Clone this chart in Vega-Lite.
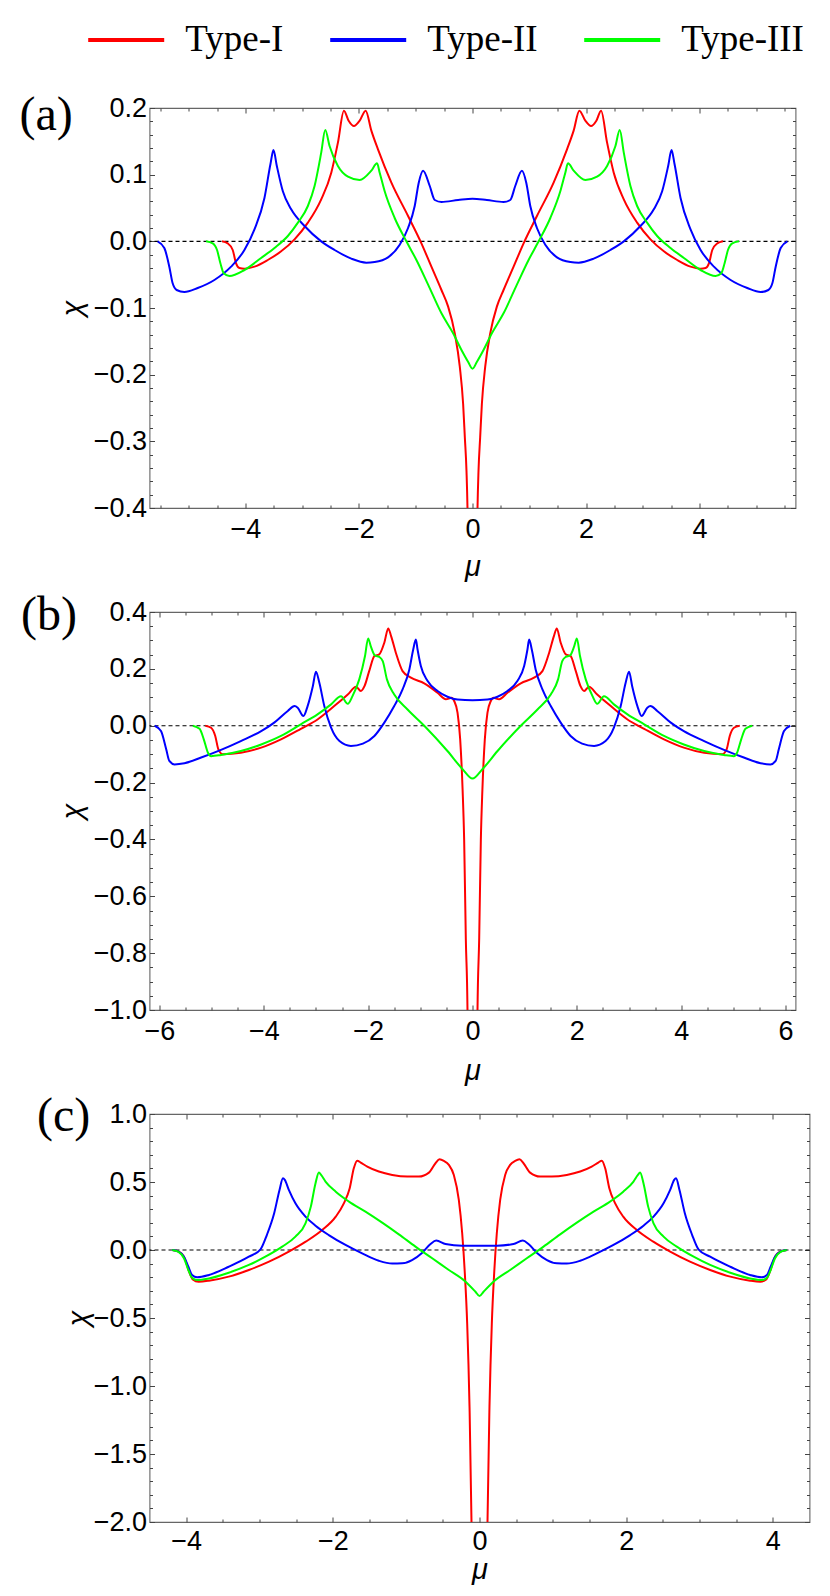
{
  "$schema": "https://vega.github.io/schema/vega-lite/v6.json",
  "background": "white",
  "padding": {"left": 18.5, "top": 0, "right": 10, "bottom": 0},
  "bounds": "flush",
  "spacing": 104,
  "config": {
    "view": {"stroke": "#666666", "strokeWidth": 1.1},
    "axis": {
      "grid": false,
      "domain": false,
      "labelFont": "Liberation Sans",
      "labelFontSize": 27,
      "labelColor": "black",
      "titleFont": "Liberation Sans",
      "titleFontSize": 29,
      "titleFontWeight": "normal",
      "titleFontStyle": "italic",
      "titleColor": "black",
      "tickColor": "#444444",
      "tickWidth": 1
    }
  },
  "datasets": {
    "a": [
      {"t":"Type-I","mu":-4.412,"chi":0},{"t":"Type-I","mu":-4.312,"chi":-0.003},{"t":"Type-I","mu":-4.224,"chi":-0.013},{"t":"Type-I","mu":-4.165,"chi":-0.033},{"t":"Type-I","mu":-4.106,"chi":-0.04},{"t":"Type-I","mu":-4.018,"chi":-0.041},{"t":"Type-I","mu":-3.841,"chi":-0.038},{"t":"Type-I","mu":-3.606,"chi":-0.028},{"t":"Type-I","mu":-3.371,"chi":-0.015},{"t":"Type-I","mu":-3.135,"chi":0.003},{"t":"Type-I","mu":-2.9,"chi":0.028},{"t":"Type-I","mu":-2.665,"chi":0.063},{"t":"Type-I","mu":-2.488,"chi":0.103},{"t":"Type-I","mu":-2.371,"chi":0.148},{"t":"Type-I","mu":-2.265,"chi":0.196},{"t":"Type-I","mu":-2.182,"chi":0.181},{"t":"Type-I","mu":-2.088,"chi":0.173},{"t":"Type-I","mu":-1.988,"chi":0.181},{"t":"Type-I","mu":-1.882,"chi":0.196},{"t":"Type-I","mu":-1.782,"chi":0.166},{"t":"Type-I","mu":-1.665,"chi":0.138},{"t":"Type-I","mu":-1.429,"chi":0.088},{"t":"Type-I","mu":-1.135,"chi":0.038},{"t":"Type-I","mu":-0.9,"chi":-0.003},{"t":"Type-I","mu":-0.724,"chi":-0.038},{"t":"Type-I","mu":-0.547,"chi":-0.073},{"t":"Type-I","mu":-0.429,"chi":-0.098},{"t":"Type-I","mu":-0.312,"chi":-0.138},{"t":"Type-I","mu":-0.224,"chi":-0.188},{"t":"Type-I","mu":-0.165,"chi":-0.244},{"t":"Type-I","mu":-0.135,"chi":-0.294},{"t":"Type-I","mu":-0.106,"chi":-0.344},{"t":"Type-I","mu":-0.088,"chi":-0.401},{"t":"Type-I","mu":-0.06,"chi":-0.6},
      {"t":"Type-I","mu":0.06,"chi":-0.6},{"t":"Type-I","mu":0.088,"chi":-0.401},{"t":"Type-I","mu":0.106,"chi":-0.344},{"t":"Type-I","mu":0.135,"chi":-0.294},{"t":"Type-I","mu":0.165,"chi":-0.244},{"t":"Type-I","mu":0.224,"chi":-0.188},{"t":"Type-I","mu":0.312,"chi":-0.138},{"t":"Type-I","mu":0.429,"chi":-0.098},{"t":"Type-I","mu":0.547,"chi":-0.073},{"t":"Type-I","mu":0.724,"chi":-0.038},{"t":"Type-I","mu":0.9,"chi":-0.003},{"t":"Type-I","mu":1.135,"chi":0.038},{"t":"Type-I","mu":1.429,"chi":0.088},{"t":"Type-I","mu":1.665,"chi":0.138},{"t":"Type-I","mu":1.782,"chi":0.166},{"t":"Type-I","mu":1.882,"chi":0.196},{"t":"Type-I","mu":1.988,"chi":0.181},{"t":"Type-I","mu":2.088,"chi":0.173},{"t":"Type-I","mu":2.182,"chi":0.181},{"t":"Type-I","mu":2.265,"chi":0.196},{"t":"Type-I","mu":2.371,"chi":0.148},{"t":"Type-I","mu":2.488,"chi":0.103},{"t":"Type-I","mu":2.665,"chi":0.063},{"t":"Type-I","mu":2.9,"chi":0.028},{"t":"Type-I","mu":3.135,"chi":0.003},{"t":"Type-I","mu":3.371,"chi":-0.015},{"t":"Type-I","mu":3.606,"chi":-0.028},{"t":"Type-I","mu":3.841,"chi":-0.038},{"t":"Type-I","mu":4.018,"chi":-0.041},{"t":"Type-I","mu":4.106,"chi":-0.04},{"t":"Type-I","mu":4.165,"chi":-0.033},{"t":"Type-I","mu":4.224,"chi":-0.013},{"t":"Type-I","mu":4.312,"chi":-0.003},{"t":"Type-I","mu":4.412,"chi":0},
      {"t":"Type-II","mu":-5.547,"chi":0},{"t":"Type-II","mu":-5.429,"chi":-0.01},{"t":"Type-II","mu":-5.341,"chi":-0.038},{"t":"Type-II","mu":-5.282,"chi":-0.063},{"t":"Type-II","mu":-5.212,"chi":-0.073},{"t":"Type-II","mu":-5.076,"chi":-0.076},{"t":"Type-II","mu":-4.841,"chi":-0.07},{"t":"Type-II","mu":-4.547,"chi":-0.058},{"t":"Type-II","mu":-4.253,"chi":-0.038},{"t":"Type-II","mu":-4.018,"chi":-0.013},{"t":"Type-II","mu":-3.841,"chi":0.018},{"t":"Type-II","mu":-3.665,"chi":0.065},{"t":"Type-II","mu":-3.559,"chi":0.116},{"t":"Type-II","mu":-3.506,"chi":0.137},{"t":"Type-II","mu":-3.447,"chi":0.113},{"t":"Type-II","mu":-3.341,"chi":0.075},{"t":"Type-II","mu":-3.194,"chi":0.048},{"t":"Type-II","mu":-2.959,"chi":0.023},{"t":"Type-II","mu":-2.665,"chi":0},{"t":"Type-II","mu":-2.429,"chi":-0.013},{"t":"Type-II","mu":-2.135,"chi":-0.026},{"t":"Type-II","mu":-1.871,"chi":-0.032},{"t":"Type-II","mu":-1.724,"chi":-0.031},{"t":"Type-II","mu":-1.488,"chi":-0.024},{"t":"Type-II","mu":-1.282,"chi":-0.005},{"t":"Type-II","mu":-1.135,"chi":0.02},{"t":"Type-II","mu":-1.018,"chi":0.053},{"t":"Type-II","mu":-0.947,"chi":0.088},{"t":"Type-II","mu":-0.871,"chi":0.106},{"t":"Type-II","mu":-0.753,"chi":0.083},{"t":"Type-II","mu":-0.665,"chi":0.062},{"t":"Type-II","mu":-0.547,"chi":0.059},{"t":"Type-II","mu":-0.253,"chi":0.062},{"t":"Type-II","mu":0,"chi":0.064},
      {"t":"Type-II","mu":0.253,"chi":0.062},{"t":"Type-II","mu":0.547,"chi":0.059},{"t":"Type-II","mu":0.665,"chi":0.062},{"t":"Type-II","mu":0.753,"chi":0.083},{"t":"Type-II","mu":0.871,"chi":0.106},{"t":"Type-II","mu":0.947,"chi":0.088},{"t":"Type-II","mu":1.018,"chi":0.053},{"t":"Type-II","mu":1.135,"chi":0.02},{"t":"Type-II","mu":1.282,"chi":-0.005},{"t":"Type-II","mu":1.488,"chi":-0.024},{"t":"Type-II","mu":1.724,"chi":-0.031},{"t":"Type-II","mu":1.871,"chi":-0.032},{"t":"Type-II","mu":2.135,"chi":-0.026},{"t":"Type-II","mu":2.429,"chi":-0.013},{"t":"Type-II","mu":2.665,"chi":0},{"t":"Type-II","mu":2.959,"chi":0.023},{"t":"Type-II","mu":3.194,"chi":0.048},{"t":"Type-II","mu":3.341,"chi":0.075},{"t":"Type-II","mu":3.447,"chi":0.113},{"t":"Type-II","mu":3.506,"chi":0.137},{"t":"Type-II","mu":3.559,"chi":0.116},{"t":"Type-II","mu":3.665,"chi":0.065},{"t":"Type-II","mu":3.841,"chi":0.018},{"t":"Type-II","mu":4.018,"chi":-0.013},{"t":"Type-II","mu":4.253,"chi":-0.038},{"t":"Type-II","mu":4.547,"chi":-0.058},{"t":"Type-II","mu":4.841,"chi":-0.07},{"t":"Type-II","mu":5.076,"chi":-0.076},{"t":"Type-II","mu":5.212,"chi":-0.073},{"t":"Type-II","mu":5.282,"chi":-0.063},{"t":"Type-II","mu":5.341,"chi":-0.038},{"t":"Type-II","mu":5.429,"chi":-0.01},{"t":"Type-II","mu":5.547,"chi":0},
      {"t":"Type-III","mu":-4.694,"chi":0},{"t":"Type-III","mu":-4.576,"chi":-0.003},{"t":"Type-III","mu":-4.5,"chi":-0.013},{"t":"Type-III","mu":-4.441,"chi":-0.033},{"t":"Type-III","mu":-4.382,"chi":-0.048},{"t":"Type-III","mu":-4.282,"chi":-0.052},{"t":"Type-III","mu":-4.018,"chi":-0.043},{"t":"Type-III","mu":-3.724,"chi":-0.025},{"t":"Type-III","mu":-3.488,"chi":-0.01},{"t":"Type-III","mu":-3.253,"chi":0.008},{"t":"Type-III","mu":-3.076,"chi":0.028},{"t":"Type-III","mu":-2.9,"chi":0.053},{"t":"Type-III","mu":-2.782,"chi":0.083},{"t":"Type-III","mu":-2.665,"chi":0.133},{"t":"Type-III","mu":-2.594,"chi":0.167},{"t":"Type-III","mu":-2.518,"chi":0.143},{"t":"Type-III","mu":-2.371,"chi":0.113},{"t":"Type-III","mu":-2.194,"chi":0.097},{"t":"Type-III","mu":-1.988,"chi":0.092},{"t":"Type-III","mu":-1.782,"chi":0.106},{"t":"Type-III","mu":-1.682,"chi":0.117},{"t":"Type-III","mu":-1.635,"chi":0.103},{"t":"Type-III","mu":-1.547,"chi":0.075},{"t":"Type-III","mu":-1.371,"chi":0.035},{"t":"Type-III","mu":-1.165,"chi":0},{"t":"Type-III","mu":-0.988,"chi":-0.028},{"t":"Type-III","mu":-0.782,"chi":-0.065},{"t":"Type-III","mu":-0.547,"chi":-0.108},{"t":"Type-III","mu":-0.341,"chi":-0.138},{"t":"Type-III","mu":-0.194,"chi":-0.163},{"t":"Type-III","mu":-0.076,"chi":-0.181},{"t":"Type-III","mu":0,"chi":-0.191},
      {"t":"Type-III","mu":0.076,"chi":-0.181},{"t":"Type-III","mu":0.194,"chi":-0.163},{"t":"Type-III","mu":0.341,"chi":-0.138},{"t":"Type-III","mu":0.547,"chi":-0.108},{"t":"Type-III","mu":0.782,"chi":-0.065},{"t":"Type-III","mu":0.988,"chi":-0.028},{"t":"Type-III","mu":1.165,"chi":0},{"t":"Type-III","mu":1.371,"chi":0.035},{"t":"Type-III","mu":1.547,"chi":0.075},{"t":"Type-III","mu":1.635,"chi":0.103},{"t":"Type-III","mu":1.682,"chi":0.117},{"t":"Type-III","mu":1.782,"chi":0.106},{"t":"Type-III","mu":1.988,"chi":0.092},{"t":"Type-III","mu":2.194,"chi":0.097},{"t":"Type-III","mu":2.371,"chi":0.113},{"t":"Type-III","mu":2.518,"chi":0.143},{"t":"Type-III","mu":2.594,"chi":0.167},{"t":"Type-III","mu":2.665,"chi":0.133},{"t":"Type-III","mu":2.782,"chi":0.083},{"t":"Type-III","mu":2.9,"chi":0.053},{"t":"Type-III","mu":3.076,"chi":0.028},{"t":"Type-III","mu":3.253,"chi":0.008},{"t":"Type-III","mu":3.488,"chi":-0.01},{"t":"Type-III","mu":3.724,"chi":-0.025},{"t":"Type-III","mu":4.018,"chi":-0.043},{"t":"Type-III","mu":4.282,"chi":-0.052},{"t":"Type-III","mu":4.382,"chi":-0.048},{"t":"Type-III","mu":4.441,"chi":-0.033},{"t":"Type-III","mu":4.5,"chi":-0.013},{"t":"Type-III","mu":4.576,"chi":-0.003},{"t":"Type-III","mu":4.694,"chi":0}
    ],
    "b": [
      {"t":"Type-I","mu":-5.12,"chi":0},{"t":"Type-I","mu":-5.01,"chi":-0.007},{"t":"Type-I","mu":-4.93,"chi":-0.036},{"t":"Type-I","mu":-4.87,"chi":-0.083},{"t":"Type-I","mu":-4.786,"chi":-0.1},{"t":"Type-I","mu":-4.44,"chi":-0.095},{"t":"Type-I","mu":-4.05,"chi":-0.077},{"t":"Type-I","mu":-3.67,"chi":-0.048},{"t":"Type-I","mu":-3.29,"chi":-0.011},{"t":"Type-I","mu":-2.97,"chi":0.022},{"t":"Type-I","mu":-2.65,"chi":0.069},{"t":"Type-I","mu":-2.39,"chi":0.11},{"t":"Type-I","mu":-2.23,"chi":0.137},{"t":"Type-I","mu":-2.14,"chi":0.122},{"t":"Type-I","mu":-2.07,"chi":0.139},{"t":"Type-I","mu":-1.98,"chi":0.192},{"t":"Type-I","mu":-1.88,"chi":0.245},{"t":"Type-I","mu":-1.787,"chi":0.251},{"t":"Type-I","mu":-1.69,"chi":0.292},{"t":"Type-I","mu":-1.615,"chi":0.342},{"t":"Type-I","mu":-1.56,"chi":0.315},{"t":"Type-I","mu":-1.468,"chi":0.256},{"t":"Type-I","mu":-1.34,"chi":0.192},{"t":"Type-I","mu":-1.18,"chi":0.169},{"t":"Type-I","mu":-0.925,"chi":0.149},{"t":"Type-I","mu":-0.67,"chi":0.116},{"t":"Type-I","mu":-0.51,"chi":0.093},{"t":"Type-I","mu":-0.402,"chi":0.098},{"t":"Type-I","mu":-0.351,"chi":0.087},{"t":"Type-I","mu":-0.287,"chi":0.046},{"t":"Type-I","mu":-0.236,"chi":-0.048},{"t":"Type-I","mu":-0.19,"chi":-0.224},{"t":"Type-I","mu":-0.16,"chi":-0.4},{"t":"Type-I","mu":-0.128,"chi":-0.75},{"t":"Type-I","mu":-0.096,"chi":-1.0},{"t":"Type-I","mu":-0.08,"chi":-1.4},
      {"t":"Type-I","mu":0.08,"chi":-1.4},{"t":"Type-I","mu":0.096,"chi":-1.0},{"t":"Type-I","mu":0.128,"chi":-0.75},{"t":"Type-I","mu":0.16,"chi":-0.4},{"t":"Type-I","mu":0.19,"chi":-0.224},{"t":"Type-I","mu":0.236,"chi":-0.048},{"t":"Type-I","mu":0.287,"chi":0.046},{"t":"Type-I","mu":0.351,"chi":0.087},{"t":"Type-I","mu":0.402,"chi":0.098},{"t":"Type-I","mu":0.51,"chi":0.093},{"t":"Type-I","mu":0.67,"chi":0.116},{"t":"Type-I","mu":0.925,"chi":0.149},{"t":"Type-I","mu":1.18,"chi":0.169},{"t":"Type-I","mu":1.34,"chi":0.192},{"t":"Type-I","mu":1.468,"chi":0.256},{"t":"Type-I","mu":1.56,"chi":0.315},{"t":"Type-I","mu":1.615,"chi":0.342},{"t":"Type-I","mu":1.69,"chi":0.292},{"t":"Type-I","mu":1.787,"chi":0.251},{"t":"Type-I","mu":1.88,"chi":0.245},{"t":"Type-I","mu":1.98,"chi":0.192},{"t":"Type-I","mu":2.07,"chi":0.139},{"t":"Type-I","mu":2.14,"chi":0.122},{"t":"Type-I","mu":2.23,"chi":0.137},{"t":"Type-I","mu":2.39,"chi":0.11},{"t":"Type-I","mu":2.65,"chi":0.069},{"t":"Type-I","mu":2.97,"chi":0.022},{"t":"Type-I","mu":3.29,"chi":-0.011},{"t":"Type-I","mu":3.67,"chi":-0.048},{"t":"Type-I","mu":4.05,"chi":-0.077},{"t":"Type-I","mu":4.44,"chi":-0.095},{"t":"Type-I","mu":4.786,"chi":-0.1},{"t":"Type-I","mu":4.87,"chi":-0.083},{"t":"Type-I","mu":4.93,"chi":-0.036},{"t":"Type-I","mu":5.01,"chi":-0.007},{"t":"Type-I","mu":5.12,"chi":0},
      {"t":"Type-II","mu":-6.09,"chi":0},{"t":"Type-II","mu":-5.97,"chi":-0.019},{"t":"Type-II","mu":-5.87,"chi":-0.083},{"t":"Type-II","mu":-5.81,"chi":-0.124},{"t":"Type-II","mu":-5.71,"chi":-0.136},{"t":"Type-II","mu":-5.52,"chi":-0.132},{"t":"Type-II","mu":-5.2,"chi":-0.112},{"t":"Type-II","mu":-4.82,"chi":-0.085},{"t":"Type-II","mu":-4.44,"chi":-0.054},{"t":"Type-II","mu":-4.05,"chi":-0.019},{"t":"Type-II","mu":-3.8,"chi":0.011},{"t":"Type-II","mu":-3.54,"chi":0.052},{"t":"Type-II","mu":-3.41,"chi":0.069},{"t":"Type-II","mu":-3.35,"chi":0.063},{"t":"Type-II","mu":-3.24,"chi":0.034},{"t":"Type-II","mu":-3.16,"chi":0.069},{"t":"Type-II","mu":-3.06,"chi":0.139},{"t":"Type-II","mu":-3.0,"chi":0.19},{"t":"Type-II","mu":-2.935,"chi":0.151},{"t":"Type-II","mu":-2.84,"chi":0.069},{"t":"Type-II","mu":-2.71,"chi":-0.007},{"t":"Type-II","mu":-2.55,"chi":-0.054},{"t":"Type-II","mu":-2.33,"chi":-0.071},{"t":"Type-II","mu":-2.1,"chi":-0.063},{"t":"Type-II","mu":-1.88,"chi":-0.036},{"t":"Type-II","mu":-1.69,"chi":0.011},{"t":"Type-II","mu":-1.5,"chi":0.069},{"t":"Type-II","mu":-1.34,"chi":0.128},{"t":"Type-II","mu":-1.21,"chi":0.198},{"t":"Type-II","mu":-1.136,"chi":0.268},{"t":"Type-II","mu":-1.085,"chi":0.303},{"t":"Type-II","mu":-1.053,"chi":0.268},{"t":"Type-II","mu":-0.99,"chi":0.21},{"t":"Type-II","mu":-0.86,"chi":0.157},{"t":"Type-II","mu":-0.67,"chi":0.122},{"t":"Type-II","mu":-0.479,"chi":0.102},{"t":"Type-II","mu":-0.287,"chi":0.092},{"t":"Type-II","mu":0,"chi":0.09},
      {"t":"Type-II","mu":0.287,"chi":0.092},{"t":"Type-II","mu":0.479,"chi":0.102},{"t":"Type-II","mu":0.67,"chi":0.122},{"t":"Type-II","mu":0.86,"chi":0.157},{"t":"Type-II","mu":0.99,"chi":0.21},{"t":"Type-II","mu":1.053,"chi":0.268},{"t":"Type-II","mu":1.085,"chi":0.303},{"t":"Type-II","mu":1.136,"chi":0.268},{"t":"Type-II","mu":1.21,"chi":0.198},{"t":"Type-II","mu":1.34,"chi":0.128},{"t":"Type-II","mu":1.5,"chi":0.069},{"t":"Type-II","mu":1.69,"chi":0.011},{"t":"Type-II","mu":1.88,"chi":-0.036},{"t":"Type-II","mu":2.1,"chi":-0.063},{"t":"Type-II","mu":2.33,"chi":-0.071},{"t":"Type-II","mu":2.55,"chi":-0.054},{"t":"Type-II","mu":2.71,"chi":-0.007},{"t":"Type-II","mu":2.84,"chi":0.069},{"t":"Type-II","mu":2.935,"chi":0.151},{"t":"Type-II","mu":3.0,"chi":0.19},{"t":"Type-II","mu":3.06,"chi":0.139},{"t":"Type-II","mu":3.16,"chi":0.069},{"t":"Type-II","mu":3.24,"chi":0.034},{"t":"Type-II","mu":3.35,"chi":0.063},{"t":"Type-II","mu":3.41,"chi":0.069},{"t":"Type-II","mu":3.54,"chi":0.052},{"t":"Type-II","mu":3.8,"chi":0.011},{"t":"Type-II","mu":4.05,"chi":-0.019},{"t":"Type-II","mu":4.44,"chi":-0.054},{"t":"Type-II","mu":4.82,"chi":-0.085},{"t":"Type-II","mu":5.2,"chi":-0.112},{"t":"Type-II","mu":5.52,"chi":-0.132},{"t":"Type-II","mu":5.71,"chi":-0.136},{"t":"Type-II","mu":5.81,"chi":-0.124},{"t":"Type-II","mu":5.87,"chi":-0.083},{"t":"Type-II","mu":5.97,"chi":-0.019},{"t":"Type-II","mu":6.09,"chi":0},
      {"t":"Type-III","mu":-5.36,"chi":0},{"t":"Type-III","mu":-5.23,"chi":-0.011},{"t":"Type-III","mu":-5.15,"chi":-0.048},{"t":"Type-III","mu":-5.07,"chi":-0.095},{"t":"Type-III","mu":-5.01,"chi":-0.107},{"t":"Type-III","mu":-4.82,"chi":-0.103},{"t":"Type-III","mu":-4.44,"chi":-0.089},{"t":"Type-III","mu":-4.05,"chi":-0.066},{"t":"Type-III","mu":-3.67,"chi":-0.036},{"t":"Type-III","mu":-3.29,"chi":0.005},{"t":"Type-III","mu":-2.97,"chi":0.04},{"t":"Type-III","mu":-2.71,"chi":0.075},{"t":"Type-III","mu":-2.52,"chi":0.104},{"t":"Type-III","mu":-2.39,"chi":0.077},{"t":"Type-III","mu":-2.3,"chi":0.104},{"t":"Type-III","mu":-2.17,"chi":0.163},{"t":"Type-III","mu":-2.06,"chi":0.245},{"t":"Type-III","mu":-2.0,"chi":0.307},{"t":"Type-III","mu":-1.95,"chi":0.28},{"t":"Type-III","mu":-1.87,"chi":0.247},{"t":"Type-III","mu":-1.787,"chi":0.242},{"t":"Type-III","mu":-1.72,"chi":0.227},{"t":"Type-III","mu":-1.64,"chi":0.163},{"t":"Type-III","mu":-1.5,"chi":0.11},{"t":"Type-III","mu":-1.245,"chi":0.057},{"t":"Type-III","mu":-0.925,"chi":0},{"t":"Type-III","mu":-0.48,"chi":-0.089},{"t":"Type-III","mu":-0.19,"chi":-0.153},{"t":"Type-III","mu":0,"chi":-0.186},
      {"t":"Type-III","mu":0.19,"chi":-0.153},{"t":"Type-III","mu":0.48,"chi":-0.089},{"t":"Type-III","mu":0.925,"chi":0},{"t":"Type-III","mu":1.245,"chi":0.057},{"t":"Type-III","mu":1.5,"chi":0.11},{"t":"Type-III","mu":1.64,"chi":0.163},{"t":"Type-III","mu":1.72,"chi":0.227},{"t":"Type-III","mu":1.787,"chi":0.242},{"t":"Type-III","mu":1.87,"chi":0.247},{"t":"Type-III","mu":1.95,"chi":0.28},{"t":"Type-III","mu":2.0,"chi":0.307},{"t":"Type-III","mu":2.06,"chi":0.245},{"t":"Type-III","mu":2.17,"chi":0.163},{"t":"Type-III","mu":2.3,"chi":0.104},{"t":"Type-III","mu":2.39,"chi":0.077},{"t":"Type-III","mu":2.52,"chi":0.104},{"t":"Type-III","mu":2.71,"chi":0.075},{"t":"Type-III","mu":2.97,"chi":0.04},{"t":"Type-III","mu":3.29,"chi":0.005},{"t":"Type-III","mu":3.67,"chi":-0.036},{"t":"Type-III","mu":4.05,"chi":-0.066},{"t":"Type-III","mu":4.44,"chi":-0.089},{"t":"Type-III","mu":4.82,"chi":-0.103},{"t":"Type-III","mu":5.01,"chi":-0.107},{"t":"Type-III","mu":5.07,"chi":-0.095},{"t":"Type-III","mu":5.15,"chi":-0.048},{"t":"Type-III","mu":5.23,"chi":-0.011},{"t":"Type-III","mu":5.36,"chi":0}
    ],
    "c": [
      {"t":"Type-I","mu":-4.19,"chi":0},{"t":"Type-I","mu":-4.1,"chi":-0.012},{"t":"Type-I","mu":-4.02,"chi":-0.061},{"t":"Type-I","mu":-3.96,"chi":-0.159},{"t":"Type-I","mu":-3.91,"chi":-0.216},{"t":"Type-I","mu":-3.83,"chi":-0.233},{"t":"Type-I","mu":-3.69,"chi":-0.226},{"t":"Type-I","mu":-3.42,"chi":-0.196},{"t":"Type-I","mu":-3.145,"chi":-0.147},{"t":"Type-I","mu":-2.87,"chi":-0.086},{"t":"Type-I","mu":-2.6,"chi":-0.012},{"t":"Type-I","mu":-2.37,"chi":0.061},{"t":"Type-I","mu":-2.145,"chi":0.147},{"t":"Type-I","mu":-1.96,"chi":0.245},{"t":"Type-I","mu":-1.85,"chi":0.343},{"t":"Type-I","mu":-1.77,"chi":0.454},{"t":"Type-I","mu":-1.714,"chi":0.601},{"t":"Type-I","mu":-1.668,"chi":0.657},{"t":"Type-I","mu":-1.62,"chi":0.643},{"t":"Type-I","mu":-1.53,"chi":0.613},{"t":"Type-I","mu":-1.373,"chi":0.577},{"t":"Type-I","mu":-1.19,"chi":0.552},{"t":"Type-I","mu":-0.986,"chi":0.54},{"t":"Type-I","mu":-0.827,"chi":0.54},{"t":"Type-I","mu":-0.69,"chi":0.569},{"t":"Type-I","mu":-0.6,"chi":0.638},{"t":"Type-I","mu":-0.545,"chi":0.667},{"t":"Type-I","mu":-0.486,"chi":0.655},{"t":"Type-I","mu":-0.418,"chi":0.626},{"t":"Type-I","mu":-0.35,"chi":0.552},{"t":"Type-I","mu":-0.282,"chi":0.368},{"t":"Type-I","mu":-0.236,"chi":0.123},{"t":"Type-I","mu":-0.2,"chi":-0.172},{"t":"Type-I","mu":-0.168,"chi":-0.54},{"t":"Type-I","mu":-0.136,"chi":-1.153},{"t":"Type-I","mu":-0.109,"chi":-2.0},{"t":"Type-I","mu":-0.09,"chi":-3.0},
      {"t":"Type-I","mu":0.09,"chi":-3.0},{"t":"Type-I","mu":0.109,"chi":-2.0},{"t":"Type-I","mu":0.136,"chi":-1.153},{"t":"Type-I","mu":0.168,"chi":-0.54},{"t":"Type-I","mu":0.2,"chi":-0.172},{"t":"Type-I","mu":0.236,"chi":0.123},{"t":"Type-I","mu":0.282,"chi":0.368},{"t":"Type-I","mu":0.35,"chi":0.552},{"t":"Type-I","mu":0.418,"chi":0.626},{"t":"Type-I","mu":0.486,"chi":0.655},{"t":"Type-I","mu":0.545,"chi":0.667},{"t":"Type-I","mu":0.6,"chi":0.638},{"t":"Type-I","mu":0.69,"chi":0.569},{"t":"Type-I","mu":0.827,"chi":0.54},{"t":"Type-I","mu":0.986,"chi":0.54},{"t":"Type-I","mu":1.19,"chi":0.552},{"t":"Type-I","mu":1.373,"chi":0.577},{"t":"Type-I","mu":1.53,"chi":0.613},{"t":"Type-I","mu":1.62,"chi":0.643},{"t":"Type-I","mu":1.668,"chi":0.657},{"t":"Type-I","mu":1.714,"chi":0.601},{"t":"Type-I","mu":1.77,"chi":0.454},{"t":"Type-I","mu":1.85,"chi":0.343},{"t":"Type-I","mu":1.96,"chi":0.245},{"t":"Type-I","mu":2.145,"chi":0.147},{"t":"Type-I","mu":2.37,"chi":0.061},{"t":"Type-I","mu":2.6,"chi":-0.012},{"t":"Type-I","mu":2.87,"chi":-0.086},{"t":"Type-I","mu":3.145,"chi":-0.147},{"t":"Type-I","mu":3.42,"chi":-0.196},{"t":"Type-I","mu":3.69,"chi":-0.226},{"t":"Type-I","mu":3.83,"chi":-0.233},{"t":"Type-I","mu":3.91,"chi":-0.216},{"t":"Type-I","mu":3.96,"chi":-0.159},{"t":"Type-I","mu":4.02,"chi":-0.061},{"t":"Type-I","mu":4.1,"chi":-0.012},{"t":"Type-I","mu":4.19,"chi":0},
      {"t":"Type-II","mu":-4.19,"chi":0},{"t":"Type-II","mu":-4.11,"chi":-0.01},{"t":"Type-II","mu":-4.03,"chi":-0.049},{"t":"Type-II","mu":-3.97,"chi":-0.123},{"t":"Type-II","mu":-3.92,"chi":-0.184},{"t":"Type-II","mu":-3.85,"chi":-0.201},{"t":"Type-II","mu":-3.69,"chi":-0.184},{"t":"Type-II","mu":-3.42,"chi":-0.123},{"t":"Type-II","mu":-3.145,"chi":-0.049},{"t":"Type-II","mu":-2.986,"chi":0.005},{"t":"Type-II","mu":-2.9,"chi":0.11},{"t":"Type-II","mu":-2.8,"chi":0.27},{"t":"Type-II","mu":-2.727,"chi":0.442},{"t":"Type-II","mu":-2.68,"chi":0.527},{"t":"Type-II","mu":-2.655,"chi":0.515},{"t":"Type-II","mu":-2.6,"chi":0.442},{"t":"Type-II","mu":-2.51,"chi":0.343},{"t":"Type-II","mu":-2.373,"chi":0.245},{"t":"Type-II","mu":-2.236,"chi":0.179},{"t":"Type-II","mu":-2.055,"chi":0.11},{"t":"Type-II","mu":-1.827,"chi":0.037},{"t":"Type-II","mu":-1.6,"chi":-0.025},{"t":"Type-II","mu":-1.373,"chi":-0.079},{"t":"Type-II","mu":-1.19,"chi":-0.1},{"t":"Type-II","mu":-1.055,"chi":-0.098},{"t":"Type-II","mu":-0.92,"chi":-0.074},{"t":"Type-II","mu":-0.78,"chi":-0.02},{"t":"Type-II","mu":-0.668,"chi":0.044},{"t":"Type-II","mu":-0.59,"chi":0.069},{"t":"Type-II","mu":-0.464,"chi":0.044},{"t":"Type-II","mu":-0.236,"chi":0.032},{"t":"Type-II","mu":0,"chi":0.032},
      {"t":"Type-II","mu":0.236,"chi":0.032},{"t":"Type-II","mu":0.464,"chi":0.044},{"t":"Type-II","mu":0.59,"chi":0.069},{"t":"Type-II","mu":0.668,"chi":0.044},{"t":"Type-II","mu":0.78,"chi":-0.02},{"t":"Type-II","mu":0.92,"chi":-0.074},{"t":"Type-II","mu":1.055,"chi":-0.098},{"t":"Type-II","mu":1.19,"chi":-0.1},{"t":"Type-II","mu":1.373,"chi":-0.079},{"t":"Type-II","mu":1.6,"chi":-0.025},{"t":"Type-II","mu":1.827,"chi":0.037},{"t":"Type-II","mu":2.055,"chi":0.11},{"t":"Type-II","mu":2.236,"chi":0.179},{"t":"Type-II","mu":2.373,"chi":0.245},{"t":"Type-II","mu":2.51,"chi":0.343},{"t":"Type-II","mu":2.6,"chi":0.442},{"t":"Type-II","mu":2.655,"chi":0.515},{"t":"Type-II","mu":2.68,"chi":0.527},{"t":"Type-II","mu":2.727,"chi":0.442},{"t":"Type-II","mu":2.8,"chi":0.27},{"t":"Type-II","mu":2.9,"chi":0.11},{"t":"Type-II","mu":2.986,"chi":0.005},{"t":"Type-II","mu":3.145,"chi":-0.049},{"t":"Type-II","mu":3.42,"chi":-0.123},{"t":"Type-II","mu":3.69,"chi":-0.184},{"t":"Type-II","mu":3.85,"chi":-0.201},{"t":"Type-II","mu":3.92,"chi":-0.184},{"t":"Type-II","mu":3.97,"chi":-0.123},{"t":"Type-II","mu":4.03,"chi":-0.049},{"t":"Type-II","mu":4.11,"chi":-0.01},{"t":"Type-II","mu":4.19,"chi":0},
      {"t":"Type-III","mu":-4.19,"chi":0},{"t":"Type-III","mu":-4.11,"chi":-0.012},{"t":"Type-III","mu":-4.03,"chi":-0.061},{"t":"Type-III","mu":-3.97,"chi":-0.147},{"t":"Type-III","mu":-3.92,"chi":-0.204},{"t":"Type-III","mu":-3.85,"chi":-0.221},{"t":"Type-III","mu":-3.69,"chi":-0.209},{"t":"Type-III","mu":-3.42,"chi":-0.167},{"t":"Type-III","mu":-3.145,"chi":-0.11},{"t":"Type-III","mu":-2.92,"chi":-0.049},{"t":"Type-III","mu":-2.69,"chi":0.025},{"t":"Type-III","mu":-2.51,"chi":0.098},{"t":"Type-III","mu":-2.373,"chi":0.196},{"t":"Type-III","mu":-2.3,"chi":0.319},{"t":"Type-III","mu":-2.236,"chi":0.491},{"t":"Type-III","mu":-2.19,"chi":0.569},{"t":"Type-III","mu":-2.16,"chi":0.552},{"t":"Type-III","mu":-2.1,"chi":0.503},{"t":"Type-III","mu":-1.96,"chi":0.429},{"t":"Type-III","mu":-1.78,"chi":0.356},{"t":"Type-III","mu":-1.555,"chi":0.282},{"t":"Type-III","mu":-1.327,"chi":0.201},{"t":"Type-III","mu":-1.1,"chi":0.115},{"t":"Type-III","mu":-0.873,"chi":0.025},{"t":"Type-III","mu":-0.645,"chi":-0.061},{"t":"Type-III","mu":-0.418,"chi":-0.147},{"t":"Type-III","mu":-0.19,"chi":-0.233},{"t":"Type-III","mu":-0.055,"chi":-0.307},{"t":"Type-III","mu":0,"chi":-0.339},
      {"t":"Type-III","mu":0.055,"chi":-0.307},{"t":"Type-III","mu":0.19,"chi":-0.233},{"t":"Type-III","mu":0.418,"chi":-0.147},{"t":"Type-III","mu":0.645,"chi":-0.061},{"t":"Type-III","mu":0.873,"chi":0.025},{"t":"Type-III","mu":1.1,"chi":0.115},{"t":"Type-III","mu":1.327,"chi":0.201},{"t":"Type-III","mu":1.555,"chi":0.282},{"t":"Type-III","mu":1.78,"chi":0.356},{"t":"Type-III","mu":1.96,"chi":0.429},{"t":"Type-III","mu":2.1,"chi":0.503},{"t":"Type-III","mu":2.16,"chi":0.552},{"t":"Type-III","mu":2.19,"chi":0.569},{"t":"Type-III","mu":2.236,"chi":0.491},{"t":"Type-III","mu":2.3,"chi":0.319},{"t":"Type-III","mu":2.373,"chi":0.196},{"t":"Type-III","mu":2.51,"chi":0.098},{"t":"Type-III","mu":2.69,"chi":0.025},{"t":"Type-III","mu":2.92,"chi":-0.049},{"t":"Type-III","mu":3.145,"chi":-0.11},{"t":"Type-III","mu":3.42,"chi":-0.167},{"t":"Type-III","mu":3.69,"chi":-0.209},{"t":"Type-III","mu":3.85,"chi":-0.221},{"t":"Type-III","mu":3.92,"chi":-0.204},{"t":"Type-III","mu":3.97,"chi":-0.147},{"t":"Type-III","mu":4.03,"chi":-0.061},{"t":"Type-III","mu":4.11,"chi":-0.012},{"t":"Type-III","mu":4.19,"chi":0}
    ]
  },
  "vconcat": [
    {
      "width": 646,
      "height": 400,
      "resolve": {"axis": {"x": "independent", "y": "independent"}},
      "layer": [
        {
          "data": {"values": [{"chi": 0}]},
          "mark": {"type": "rule", "color": "black", "strokeWidth": 1.1, "strokeDash": [4, 3]},
          "encoding": {
            "y": {"field": "chi", "type": "quantitative", "scale": {"domain": [-0.4, 0.2], "nice": false, "zero": false}, "axis": null}
          }
        },
        {
          "data": {"name": "a"},
          "mark": {"type": "line", "clip": true, "strokeWidth": 2, "interpolate": "monotone"},
          "encoding": {
            "x": {"field": "mu", "type": "quantitative", "scale": {"domain": [-5.69, 5.69], "nice": false, "zero": false},
              "axis": {"orient": "bottom", "values": [-4, -2, 0, 2, 4], "format": "d", "ticks": false, "tickSize": 0, "labelPadding": 8, "title": "μ", "titleX": 323, "titleY": 67, "titleAlign": "center", "titleBaseline": "alphabetic"}},
            "y": {"field": "chi", "type": "quantitative", "scale": {"domain": [-0.4, 0.2], "nice": false, "zero": false},
              "axis": {"orient": "left", "values": [-0.4, -0.3, -0.2, -0.1, 0, 0.1, 0.2], "format": ".1f", "ticks": false, "tickSize": 0, "labelPadding": 3, "title": "χ", "titleX": -77, "titleY": 200, "titleAngle": 270, "titleAlign": "center", "titleBaseline": "middle"}},
            "color": {"field": "t", "type": "nominal", "scale": {"domain": ["Type-I", "Type-II", "Type-III"], "range": ["#ff0000", "#0000ff", "#00ff00"]},
              "legend": {"orient": "none", "legendX": -63.3, "legendY": -108, "direction": "horizontal", "title": null, "symbolType": "stroke", "symbolSize": 5776, "symbolStrokeWidth": 4, "labelFont": "Liberation Serif", "labelFontSize": 37, "labelColor": "black", "labelOffset": 19, "columnPadding": 38, "labelLimit": 0}}
          }
        },
        {
          "data": {"values": [{"mu": 0, "chi": 0}]},
          "mark": {"type": "point", "opacity": 0},
          "encoding": {
            "x": {"field": "mu", "type": "quantitative", "scale": {"domain": [-5.69, 5.69], "nice": false, "zero": false}, "axis": {"orient": "bottom", "values": [-4, -2, 0, 2, 4], "labels": false, "tickSize": -5, "title": null}},
            "y": {"field": "chi", "type": "quantitative", "scale": {"domain": [-0.4, 0.2], "nice": false, "zero": false}, "axis": {"orient": "left", "values": [-0.4, -0.3, -0.2, -0.1, 0, 0.1, 0.2], "labels": false, "tickSize": -5, "title": null}}
          }
        },
        {
          "data": {"values": [{"mu": 0, "chi": 0}]},
          "mark": {"type": "point", "opacity": 0},
          "encoding": {
            "x": {"field": "mu", "type": "quantitative", "scale": {"domain": [-5.69, 5.69], "nice": false, "zero": false}, "axis": {"orient": "top", "values": [-4, -2, 0, 2, 4], "labels": false, "tickSize": -5, "title": null}},
            "y": {"field": "chi", "type": "quantitative", "scale": {"domain": [-0.4, 0.2], "nice": false, "zero": false}, "axis": {"orient": "right", "values": [-0.4, -0.3, -0.2, -0.1, 0, 0.1, 0.2], "labels": false, "tickSize": -5, "title": null}}
          }
        },
        {
          "data": {"values": [{"mu": 0, "chi": 0}]},
          "mark": {"type": "point", "opacity": 0},
          "encoding": {
            "x": {"field": "mu", "type": "quantitative", "scale": {"domain": [-5.69, 5.69], "nice": false, "zero": false}, "axis": {"orient": "bottom", "values": [-5.5, -5, -4.5, -3.5, -3, -2.5, -1.5, -1, -0.5, 0.5, 1, 1.5, 2.5, 3, 3.5, 4.5, 5, 5.5], "labels": false, "tickSize": -3, "title": null}},
            "y": {"field": "chi", "type": "quantitative", "scale": {"domain": [-0.4, 0.2], "nice": false, "zero": false}, "axis": {"orient": "left", "values": [-0.38, -0.36, -0.34, -0.32, -0.28, -0.26, -0.24, -0.22, -0.18, -0.16, -0.14, -0.12, -0.08, -0.06, -0.04, -0.02, 0.02, 0.04, 0.06, 0.08, 0.12, 0.14, 0.16, 0.18], "labels": false, "tickSize": -3, "title": null}}
          }
        },
        {
          "data": {"values": [{"mu": 0, "chi": 0}]},
          "mark": {"type": "point", "opacity": 0},
          "encoding": {
            "x": {"field": "mu", "type": "quantitative", "scale": {"domain": [-5.69, 5.69], "nice": false, "zero": false}, "axis": {"orient": "top", "values": [-5.5, -5, -4.5, -3.5, -3, -2.5, -1.5, -1, -0.5, 0.5, 1, 1.5, 2.5, 3, 3.5, 4.5, 5, 5.5], "labels": false, "tickSize": -3, "title": null}},
            "y": {"field": "chi", "type": "quantitative", "scale": {"domain": [-0.4, 0.2], "nice": false, "zero": false}, "axis": {"orient": "right", "values": [-0.38, -0.36, -0.34, -0.32, -0.28, -0.26, -0.24, -0.22, -0.18, -0.16, -0.14, -0.12, -0.08, -0.06, -0.04, -0.02, 0.02, 0.04, 0.06, 0.08, 0.12, 0.14, 0.16, 0.18], "labels": false, "tickSize": -3, "title": null}}
          }
        },
        {
          "data": {"values": [{"label": "(a)"}]},
          "mark": {"type": "text", "align": "left", "baseline": "middle", "dx": -130.1, "dy": 8, "font": "Liberation Serif", "fontSize": 48, "color": "black"},
          "encoding": {
            "x": {"datum": -5.69, "type": "quantitative", "scale": {"domain": [-5.69, 5.69], "nice": false, "zero": false}, "axis": null},
            "y": {"datum": 0.2, "type": "quantitative", "scale": {"domain": [-0.4, 0.2], "nice": false, "zero": false}, "axis": null},
            "text": {"field": "label"}
          }
        }
      ]
    },
    {
      "width": 646,
      "height": 398,
      "resolve": {"axis": {"x": "independent", "y": "independent"}},
      "layer": [
        {
          "data": {"values": [{"chi": 0}]},
          "mark": {"type": "rule", "color": "black", "strokeWidth": 1.1, "strokeDash": [4, 3]},
          "encoding": {
            "y": {"field": "chi", "type": "quantitative", "scale": {"domain": [-1.0, 0.4], "nice": false, "zero": false}, "axis": null}
          }
        },
        {
          "data": {"name": "b"},
          "mark": {"type": "line", "clip": true, "strokeWidth": 2, "interpolate": "monotone"},
          "encoding": {
            "x": {"field": "mu", "type": "quantitative", "scale": {"domain": [-6.19, 6.19], "nice": false, "zero": false},
              "axis": {"orient": "bottom", "values": [-6, -4, -2, 0, 2, 4, 6], "format": "d", "ticks": false, "tickSize": 0, "labelPadding": 8, "title": "μ", "titleX": 323, "titleY": 69, "titleAlign": "center", "titleBaseline": "alphabetic"}},
            "y": {"field": "chi", "type": "quantitative", "scale": {"domain": [-1.0, 0.4], "nice": false, "zero": false},
              "axis": {"orient": "left", "values": [-1.0, -0.8, -0.6, -0.4, -0.2, 0, 0.2, 0.4], "format": ".1f", "ticks": false, "tickSize": 0, "labelPadding": 3, "title": "χ", "titleX": -77, "titleY": 199, "titleAngle": 270, "titleAlign": "center", "titleBaseline": "middle"}},
            "color": {"field": "t", "type": "nominal", "scale": {"domain": ["Type-I", "Type-II", "Type-III"], "range": ["#ff0000", "#0000ff", "#00ff00"]}}
          }
        },
        {
          "data": {"values": [{"mu": 0, "chi": 0}]},
          "mark": {"type": "point", "opacity": 0},
          "encoding": {
            "x": {"field": "mu", "type": "quantitative", "scale": {"domain": [-6.19, 6.19], "nice": false, "zero": false}, "axis": {"orient": "bottom", "values": [-6, -4, -2, 0, 2, 4, 6], "labels": false, "tickSize": -5, "title": null}},
            "y": {"field": "chi", "type": "quantitative", "scale": {"domain": [-1.0, 0.4], "nice": false, "zero": false}, "axis": {"orient": "left", "values": [-1.0, -0.8, -0.6, -0.4, -0.2, 0, 0.2, 0.4], "labels": false, "tickSize": -5, "title": null}}
          }
        },
        {
          "data": {"values": [{"mu": 0, "chi": 0}]},
          "mark": {"type": "point", "opacity": 0},
          "encoding": {
            "x": {"field": "mu", "type": "quantitative", "scale": {"domain": [-6.19, 6.19], "nice": false, "zero": false}, "axis": {"orient": "top", "values": [-6, -4, -2, 0, 2, 4, 6], "labels": false, "tickSize": -5, "title": null}},
            "y": {"field": "chi", "type": "quantitative", "scale": {"domain": [-1.0, 0.4], "nice": false, "zero": false}, "axis": {"orient": "right", "values": [-1.0, -0.8, -0.6, -0.4, -0.2, 0, 0.2, 0.4], "labels": false, "tickSize": -5, "title": null}}
          }
        },
        {
          "data": {"values": [{"mu": 0, "chi": 0}]},
          "mark": {"type": "point", "opacity": 0},
          "encoding": {
            "x": {"field": "mu", "type": "quantitative", "scale": {"domain": [-6.19, 6.19], "nice": false, "zero": false}, "axis": {"orient": "bottom", "values": [-5.5, -5, -4.5, -3.5, -3, -2.5, -1.5, -1, -0.5, 0.5, 1, 1.5, 2.5, 3, 3.5, 4.5, 5, 5.5], "labels": false, "tickSize": -3, "title": null}},
            "y": {"field": "chi", "type": "quantitative", "scale": {"domain": [-1.0, 0.4], "nice": false, "zero": false}, "axis": {"orient": "left", "values": [-0.95, -0.9, -0.85, -0.75, -0.7, -0.65, -0.55, -0.5, -0.45, -0.35, -0.3, -0.25, -0.15, -0.1, -0.05, 0.05, 0.1, 0.15, 0.25, 0.3, 0.35], "labels": false, "tickSize": -3, "title": null}}
          }
        },
        {
          "data": {"values": [{"mu": 0, "chi": 0}]},
          "mark": {"type": "point", "opacity": 0},
          "encoding": {
            "x": {"field": "mu", "type": "quantitative", "scale": {"domain": [-6.19, 6.19], "nice": false, "zero": false}, "axis": {"orient": "top", "values": [-5.5, -5, -4.5, -3.5, -3, -2.5, -1.5, -1, -0.5, 0.5, 1, 1.5, 2.5, 3, 3.5, 4.5, 5, 5.5], "labels": false, "tickSize": -3, "title": null}},
            "y": {"field": "chi", "type": "quantitative", "scale": {"domain": [-1.0, 0.4], "nice": false, "zero": false}, "axis": {"orient": "right", "values": [-0.95, -0.9, -0.85, -0.75, -0.7, -0.65, -0.55, -0.5, -0.45, -0.35, -0.3, -0.25, -0.15, -0.1, -0.05, 0.05, 0.1, 0.15, 0.25, 0.3, 0.35], "labels": false, "tickSize": -3, "title": null}}
          }
        },
        {
          "data": {"values": [{"label": "(b)"}]},
          "mark": {"type": "text", "align": "left", "baseline": "middle", "dx": -128.5, "dy": 4, "font": "Liberation Serif", "fontSize": 48, "color": "black"},
          "encoding": {
            "x": {"datum": -6.19, "type": "quantitative", "scale": {"domain": [-6.19, 6.19], "nice": false, "zero": false}, "axis": null},
            "y": {"datum": 0.4, "type": "quantitative", "scale": {"domain": [-1.0, 0.4], "nice": false, "zero": false}, "axis": null},
            "text": {"field": "label"}
          }
        }
      ]
    },
    {
      "width": 660,
      "height": 408,
      "resolve": {"axis": {"x": "independent", "y": "independent"}},
      "layer": [
        {
          "data": {"values": [{"chi": 0}]},
          "mark": {"type": "rule", "color": "black", "strokeWidth": 1.1, "strokeDash": [4, 3]},
          "encoding": {
            "y": {"field": "chi", "type": "quantitative", "scale": {"domain": [-2.0, 1.0], "nice": false, "zero": false}, "axis": null}
          }
        },
        {
          "data": {"name": "c"},
          "mark": {"type": "line", "clip": true, "strokeWidth": 2, "interpolate": "monotone"},
          "encoding": {
            "x": {"field": "mu", "type": "quantitative", "scale": {"domain": [-4.5, 4.5], "nice": false, "zero": false},
              "axis": {"orient": "bottom", "values": [-4, -2, 0, 2, 4], "format": "d", "ticks": false, "tickSize": 0, "labelPadding": 6, "title": "μ", "titleX": 330, "titleY": 56, "titleAlign": "center", "titleBaseline": "alphabetic"}},
            "y": {"field": "chi", "type": "quantitative", "scale": {"domain": [-2.0, 1.0], "nice": false, "zero": false},
              "axis": {"orient": "left", "values": [-2.0, -1.5, -1.0, -0.5, 0, 0.5, 1.0], "format": ".1f", "ticks": false, "tickSize": 0, "labelPadding": 3, "title": "χ", "titleX": -71, "titleY": 204, "titleAngle": 270, "titleAlign": "center", "titleBaseline": "middle"}},
            "color": {"field": "t", "type": "nominal", "scale": {"domain": ["Type-I", "Type-II", "Type-III"], "range": ["#ff0000", "#0000ff", "#00ff00"]}}
          }
        },
        {
          "data": {"values": [{"mu": 0, "chi": 0}]},
          "mark": {"type": "point", "opacity": 0},
          "encoding": {
            "x": {"field": "mu", "type": "quantitative", "scale": {"domain": [-4.5, 4.5], "nice": false, "zero": false}, "axis": {"orient": "bottom", "values": [-4, -2, 0, 2, 4], "labels": false, "tickSize": -5, "title": null}},
            "y": {"field": "chi", "type": "quantitative", "scale": {"domain": [-2.0, 1.0], "nice": false, "zero": false}, "axis": {"orient": "left", "values": [-2.0, -1.5, -1.0, -0.5, 0, 0.5, 1.0], "labels": false, "tickSize": -5, "title": null}}
          }
        },
        {
          "data": {"values": [{"mu": 0, "chi": 0}]},
          "mark": {"type": "point", "opacity": 0},
          "encoding": {
            "x": {"field": "mu", "type": "quantitative", "scale": {"domain": [-4.5, 4.5], "nice": false, "zero": false}, "axis": {"orient": "top", "values": [-4, -2, 0, 2, 4], "labels": false, "tickSize": -5, "title": null}},
            "y": {"field": "chi", "type": "quantitative", "scale": {"domain": [-2.0, 1.0], "nice": false, "zero": false}, "axis": {"orient": "right", "values": [-2.0, -1.5, -1.0, -0.5, 0, 0.5, 1.0], "labels": false, "tickSize": -5, "title": null}}
          }
        },
        {
          "data": {"values": [{"mu": 0, "chi": 0}]},
          "mark": {"type": "point", "opacity": 0},
          "encoding": {
            "x": {"field": "mu", "type": "quantitative", "scale": {"domain": [-4.5, 4.5], "nice": false, "zero": false}, "axis": {"orient": "bottom", "values": [-3.5, -3, -2.5, -1.5, -1, -0.5, 0.5, 1, 1.5, 2.5, 3, 3.5], "labels": false, "tickSize": -3, "title": null}},
            "y": {"field": "chi", "type": "quantitative", "scale": {"domain": [-2.0, 1.0], "nice": false, "zero": false}, "axis": {"orient": "left", "values": [-1.9, -1.8, -1.7, -1.6, -1.4, -1.3, -1.2, -1.1, -0.9, -0.8, -0.7, -0.6, -0.4, -0.3, -0.2, -0.1, 0.1, 0.2, 0.3, 0.4, 0.6, 0.7, 0.8, 0.9], "labels": false, "tickSize": -3, "title": null}}
          }
        },
        {
          "data": {"values": [{"mu": 0, "chi": 0}]},
          "mark": {"type": "point", "opacity": 0},
          "encoding": {
            "x": {"field": "mu", "type": "quantitative", "scale": {"domain": [-4.5, 4.5], "nice": false, "zero": false}, "axis": {"orient": "top", "values": [-3.5, -3, -2.5, -1.5, -1, -0.5, 0.5, 1, 1.5, 2.5, 3, 3.5], "labels": false, "tickSize": -3, "title": null}},
            "y": {"field": "chi", "type": "quantitative", "scale": {"domain": [-2.0, 1.0], "nice": false, "zero": false}, "axis": {"orient": "right", "values": [-1.9, -1.8, -1.7, -1.6, -1.4, -1.3, -1.2, -1.1, -0.9, -0.8, -0.7, -0.6, -0.4, -0.3, -0.2, -0.1, 0.1, 0.2, 0.3, 0.4, 0.6, 0.7, 0.8, 0.9], "labels": false, "tickSize": -3, "title": null}}
          }
        },
        {
          "data": {"values": [{"label": "(c)"}]},
          "mark": {"type": "text", "align": "left", "baseline": "middle", "dx": -112.6, "dy": 3, "font": "Liberation Serif", "fontSize": 48, "color": "black"},
          "encoding": {
            "x": {"datum": -4.5, "type": "quantitative", "scale": {"domain": [-4.5, 4.5], "nice": false, "zero": false}, "axis": null},
            "y": {"datum": 1.0, "type": "quantitative", "scale": {"domain": [-2.0, 1.0], "nice": false, "zero": false}, "axis": null},
            "text": {"field": "label"}
          }
        }
      ]
    }
  ]
}
